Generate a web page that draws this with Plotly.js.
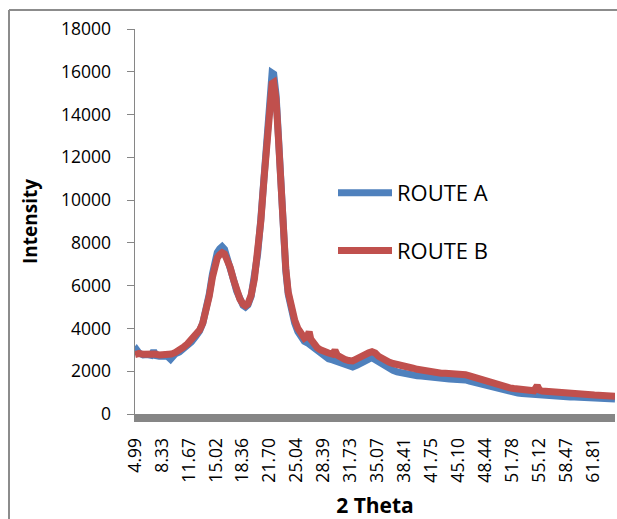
<!DOCTYPE html>
<html>
<head>
<meta charset="utf-8">
<script src="https://cdn.plot.ly/plotly-3.0.1.min.js"></script>
<style>
  html, body { margin: 0; padding: 0; background: #fff; }
  #chart { width: 617px; height: 519px; }
</style>
</head>
<body>
<div id="chart"></div>
<script>
// ---- data ----
var xTickValues = [4.99, 8.33, 11.67, 15.02, 18.36, 21.70, 25.04, 28.39, 31.73, 35.07, 38.41, 41.75, 45.10, 48.44, 51.78, 55.12, 58.47, 61.81];
var xTickLabels = ["4.99", "8.33", "11.67", "15.02", "18.36", "21.70", "25.04", "28.39", "31.73", "35.07", "38.41", "41.75", "45.10", "48.44", "51.78", "55.12", "58.47", "61.81"];
var yTickValues = [0, 2000, 4000, 6000, 8000, 10000, 12000, 14000, 16000, 18000];
var yTickLabels = ["0", "2000", "4000", "6000", "8000", "10000", "12000", "14000", "16000", "18000"];

var seriesNames = ["ROUTE A", "ROUTE B"];

var thetaA = [4.99, 5.2, 5.5, 6.0, 6.5, 7.0, 7.3, 7.6, 8.0, 8.5, 9.0, 9.4, 9.7, 10.0, 10.5, 11.0, 11.5, 12.0, 12.5, 13.0, 13.4, 13.8, 14.2, 14.6, 14.9, 15.2, 15.5, 15.8, 16.1, 16.4, 16.8, 17.2, 17.6, 18.0, 18.4, 18.7, 19.0, 19.4, 19.8, 20.2, 20.6, 21.0, 21.4, 21.7, 22.0, 22.2, 22.5, 22.8, 23.1, 23.4, 23.7, 24.0, 24.4, 24.8, 25.2, 25.6, 26.0, 26.5, 27.0, 27.5, 28.0, 28.5, 29.0, 29.5, 30.0, 30.5, 31.0, 31.5, 32.0, 32.5, 33.0, 33.5, 34.0, 34.4, 34.8, 35.2, 35.6, 36.0, 36.5, 37.0, 37.5, 38.0, 38.5, 39.0, 39.5, 40.0, 40.5, 41.0, 41.5, 42.0, 42.5, 43.0, 43.5, 44.0, 44.5, 45.0, 45.3, 45.6, 46.0, 46.5, 47.0, 47.5, 48.0, 48.5, 49.0, 49.5, 50.0, 50.5, 51.0, 51.5, 52.0, 52.5, 53.0, 53.5, 54.0, 54.5, 55.0, 55.5, 56.0, 56.5, 57.0, 57.5, 58.0, 58.5, 59.0, 59.5, 60.0, 60.5, 61.0, 61.5, 62.0, 62.5, 63.0, 63.5, 64.0, 64.55];
var intensityA = [2900, 3000, 2850, 2760, 2780, 2740, 2950, 2730, 2700, 2690, 2700, 2560, 2750, 2820, 2900, 3050, 3180, 3380, 3620, 3880, 4250, 4850, 5600, 6550, 7250, 7550, 7720, 7820, 7700, 7380, 6900, 6300, 5750, 5350, 5080, 5000, 5100, 5500, 6300, 7450, 9100, 11200, 13400, 15100, 15950, 15900, 14900, 12900, 10500, 8300, 6700, 5600, 4750, 4250, 3850, 3550, 3400, 3300, 3150, 2950, 2800, 2680, 2580, 2530, 2450, 2380, 2300, 2230, 2200, 2280, 2400, 2500, 2570, 2630, 2540, 2400, 2290, 2200, 2120, 2040, 1970, 1920, 1880, 1850, 1820, 1790, 1770, 1740, 1720, 1700, 1680, 1660, 1650, 1640, 1630, 1640, 1650, 1620, 1590, 1540, 1490, 1430, 1370, 1300, 1250, 1200, 1150, 1110, 1070, 1040, 1010, 980, 960, 940, 925, 915, 930, 900, 880, 860, 840, 830, 820, 810, 800, 790, 775, 760, 750, 740, 730, 720, 715, 710, 705, 700];

var thetaB = [4.99, 5.5, 6.0, 6.5, 7.0, 7.5, 8.0, 8.5, 9.0, 9.5, 10.0, 10.5, 11.0, 11.5, 12.0, 12.5, 13.0, 13.4, 13.8, 14.2, 14.6, 14.9, 15.2, 15.5, 15.8, 16.1, 16.4, 16.8, 17.2, 17.6, 18.0, 18.4, 18.7, 19.0, 19.4, 19.8, 20.2, 20.6, 21.0, 21.4, 21.7, 22.0, 22.2, 22.5, 22.8, 23.1, 23.4, 23.7, 24.0, 24.4, 24.8, 25.2, 25.6, 26.0, 26.4, 26.6, 26.8, 27.2, 27.6, 28.0, 28.5, 29.0, 29.5, 29.8, 30.1, 30.5, 31.0, 31.5, 32.0, 32.5, 33.0, 33.5, 34.0, 34.4, 34.8, 35.2, 35.6, 36.0, 36.5, 37.0, 37.5, 38.0, 38.5, 39.0, 39.5, 40.0, 40.5, 41.0, 41.5, 42.0, 42.5, 43.0, 43.5, 44.0, 44.5, 45.0, 45.3, 45.6, 46.0, 46.5, 47.0, 47.5, 48.0, 48.5, 49.0, 49.5, 50.0, 50.5, 51.0, 51.5, 52.0, 52.5, 53.0, 53.5, 54.0, 54.5, 54.9, 55.2, 55.5, 56.0, 56.5, 57.0, 57.5, 58.0, 58.5, 59.0, 59.5, 60.0, 60.5, 61.0, 61.5, 62.0, 62.5, 63.0, 63.5, 64.0, 64.55];
var intensityB = [2780, 2830, 2790, 2810, 2780, 2800, 2760, 2750, 2780, 2800, 2880, 2980, 3120, 3280, 3480, 3700, 3920, 4250, 4800, 5500, 6400, 7050, 7300, 7450, 7540, 7480, 7250, 6850, 6300, 5780, 5380, 5130, 5060, 5150, 5550, 6300, 7400, 9000, 11000, 13000, 14600, 15450, 15500, 14700, 12800, 10500, 8400, 6800, 5700, 4900, 4400, 4000, 3700, 3550, 3650, 3850, 3500, 3250, 3100, 3000, 2900, 2850, 2800, 2980, 2750, 2640, 2560, 2500, 2480, 2580, 2700, 2790, 2860, 2910, 2850, 2700, 2600, 2520, 2430, 2360, 2300, 2240, 2200, 2170, 2140, 2090, 2050, 2010, 1970, 1950, 1930, 1910, 1900, 1890, 1880, 1900, 1930, 1870, 1840, 1780, 1720, 1660, 1580, 1500, 1440, 1390, 1340, 1290, 1250, 1220, 1190, 1160, 1140, 1120, 1100, 1090, 1330, 1110, 1070, 1050, 1030, 1010, 1000, 990, 980, 975, 960, 940, 920, 905, 895, 885, 875, 865, 855, 845, 835];

// ---- layout constants ----
var W = 617, H = 519;
var M = {l: 135, r: 2, t: 29, b: 105};
var pw = W - M.l - M.r, ph = H - M.t - M.b;
function px2paperX(p) { return (p - M.l) / pw; }
function px2paperY(p) { return (H - M.b - p) / ph; }

var FONT = "Open Sans, Liberation Sans, sans-serif";

var traces = [
  {
    x: thetaA, y: intensityA, name: seriesNames[0], type: "scatter", mode: "lines",
    line: {color: "#4F81BD", width: 7}, legendgroup: "a"
  },
  {
    x: thetaB, y: intensityB, name: seriesNames[1], type: "scatter", mode: "lines",
    line: {color: "#C0504D", width: 7}, legendgroup: "b"
  }
];

var frameColor = "#8C8C8C";
var layout = {
  width: W, height: H,
  margin: M,
  paper_bgcolor: "#ffffff",
  plot_bgcolor: "#ffffff",
  font: {family: FONT, size: 17, color: "#000"},
  showlegend: true,
  legend: {
    x: px2paperX(333), y: px2paperY(172), xanchor: "left", yanchor: "top",
    bgcolor: "rgba(0,0,0,0)", borderwidth: 0,
    font: {family: FONT, size: 22, color: "#000"},
    traceorder: "grouped", tracegroupgap: 26, itemwidth: 54
  },
  xaxis: {
    type: "linear",
    range: [4.99, 64.55],
    tickmode: "array", tickvals: xTickValues, ticktext: xTickLabels,
    tickangle: -90, ticks: "", showgrid: false, zeroline: false,
    showline: true, linecolor: "#868686", linewidth: 8,
    tickfont: {family: FONT, size: 17.5, color: "#000"},
    ticklabelstandoff: 9,
    title: {text: "<b>2 Theta</b>", font: {family: FONT, size: 21, color: "#000"}, standoff: 23}
  },
  yaxis: {
    range: [0, 18000],
    tickmode: "array", tickvals: yTickValues, ticktext: yTickLabels,
    ticks: "outside", ticklen: 7, tickcolor: "#868686", tickwidth: 1,
    showgrid: false, zeroline: false,
    showline: true, linecolor: "#868686", linewidth: 1.5,
    tickfont: {family: FONT, size: 17.5, color: "#000"},
    ticklabelstandoff: 12,
    title: {text: "<b>Intensity</b>", font: {family: FONT, size: 19, color: "#000"}, standoff: 18}
  },
  shapes: [
    {type: "line", xref: "paper", yref: "paper", layer: "above",
     x0: px2paperX(9), x1: px2paperX(9), y0: px2paperY(10), y1: px2paperY(540),
     line: {color: frameColor, width: 2}},
    {type: "line", xref: "paper", yref: "paper", layer: "above",
     x0: px2paperX(9), x1: px2paperX(640), y0: px2paperY(10), y1: px2paperY(10),
     line: {color: frameColor, width: 2}}
  ]
};

Plotly.newPlot("chart", traces, layout, {staticPlot: true, displayModeBar: false});
</script>
</body>
</html>
